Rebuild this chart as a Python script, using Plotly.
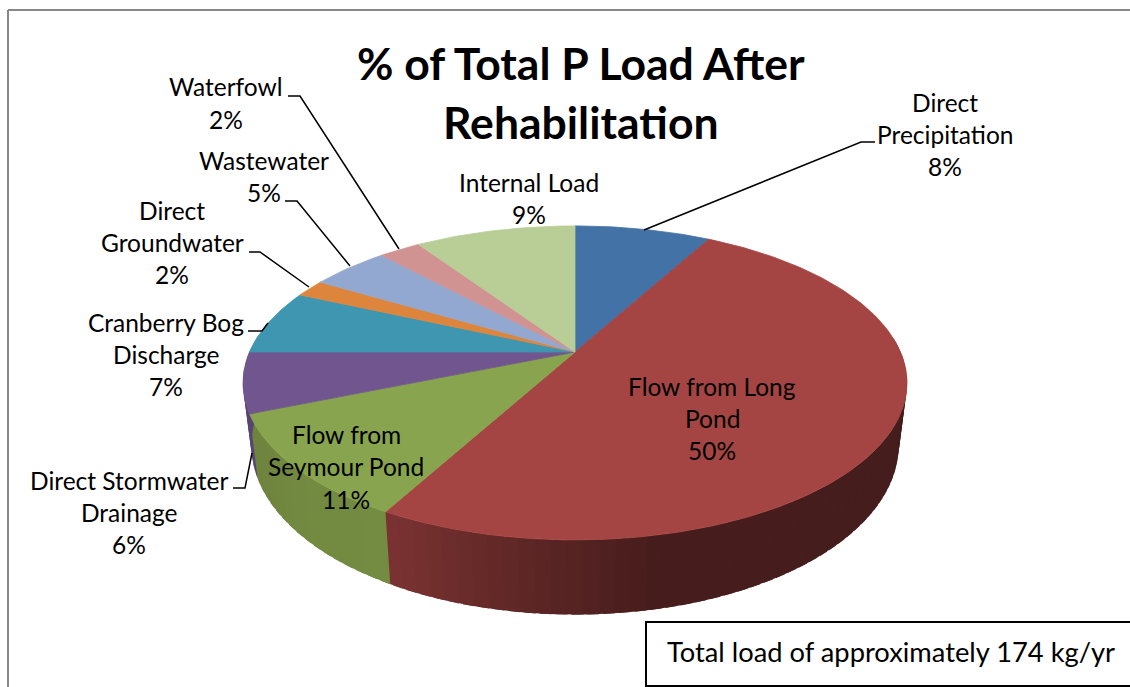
import numpy as np
import plotly.graph_objects as go

# ---- data ----
categories = ["Direct Precipitation", "Flow from Long Pond", "Flow from Seymour Pond",
              "Direct Stormwater Drainage", "Cranberry Bog Discharge", "Direct Groundwater",
              "Wastewater", "Waterfowl", "Internal Load"]
values = [8, 50, 10.8, 6.2, 6.7, 1.8, 4.6, 2.45, 9.45]
title_lines = ["% of Total P Load After", "Rehabilitation"]
note_text = "Total load of approximately 174 kg/yr"

# ---- style ----
colors = ["#4372a6", "#a54543", "#89a44e", "#70558f", "#3f96b0",
          "#dd853c", "#93a8d0", "#d09392", "#b9cd96"]
FONT = "Lato"
LABEL_SIZE = 24.5
W, H = 1130, 687

# perspective disc geometry, in the pixel-like axis units
CX, CY = 575, 352
A, B, P = 325.5, 150.9, 0.197
DEPTH = 60
SHRINK = 0.975

def top(t):
    X, Y = np.sin(t), -np.cos(t)
    w = 1 - P * Y
    return CX + A * X / w, CY + B * Y / w

def bottom(t):
    X, Y = np.sin(t), -np.cos(t)
    w = 1 - P * Y
    return CX + SHRINK * A * X / w, CY + B * Y / w + DEPTH / w

def shade(hex_color, f):
    r, g, b = [int(hex_color[i:i + 2], 16) for i in (1, 3, 5)]
    return "rgb(%d,%d,%d)" % (r * f, g * f, b * f)

def side_factor(i, x):
    if i == 1:
        return float(np.interp(x, [392, 500, 650, 900], [0.74, 0.60, 0.43, 0.42]))
    if i == 2:
        return float(np.interp(x, [255, 300, 392], [0.80, 0.84, 0.85]))
    return 0.8

fig = go.Figure()
fractions = np.cumsum([0] + values) / float(sum(values))
angles = 2 * np.pi * fractions

def add_poly(xs, ys, color, width=0.8):
    fig.add_trace(go.Scatter(x=xs, y=ys, mode="lines", fill="toself", fillcolor=color,
                             line=dict(color=color, width=width), hoverinfo="skip",
                             showlegend=False))

# side wall: overlapping strips, painted from the right round to the left
STEP, OVERLAP = 0.04, 0.03
for i in range(len(values)):
    n = max(2, int((angles[i + 1] - angles[i]) / STEP))
    ts = np.linspace(angles[i], angles[i + 1], n + 1)
    for a, b in zip(ts[:-1], ts[1:]):
        m = 0.5 * (a + b)
        if -np.cos(m) < -0.1:
            continue
        e = b + OVERLAP
        arc = np.linspace(a, e, 5)
        xt, yt = top(arc)
        xb, yb = bottom(arc[::-1])
        add_poly(list(xt) + list(xb) + [xt[0]], list(yt) + list(yb) + [yt[0]],
                 shade(colors[i], side_factor(i, bottom(m)[0])), width=0)

# top face
for i in range(len(values)):
    ts = np.linspace(angles[i], angles[i + 1], max(4, int(values[i] * 4)))
    xs, ys = top(ts)
    add_poly([CX] + list(xs) + [CX], [CY] + list(ys) + [CY], colors[i])

# leader lines (layout)
leaders = [
    [(288, 96), (300, 96), (399, 249)],
    [(285, 201), (297, 201), (350, 266)],
    [(249, 252), (260, 252), (309, 287)],
    [(248, 331), (262, 331), (268, 323)],
    [(233, 488), (245, 488), (252, 453)],
    [(875, 142), (861, 142), (644, 230)],
]
for pts in leaders:
    fig.add_trace(go.Scatter(x=[p[0] for p in pts], y=[p[1] for p in pts], mode="lines",
                             line=dict(color="black", width=1.5), hoverinfo="skip",
                             showlegend=False))

# label lines (layout)
pct = ["%.0f%%" % v for v in values]
text_items = [
    ("Waterfowl", 226, 86), (pct[7], 226, 119),
    ("Wastewater", 264, 160), (pct[6], 264, 192),
    ("Direct", 172, 210), ("Groundwater", 172, 242), (pct[5], 172, 274),
    ("Cranberry Bog", 166, 322), ("Discharge", 166, 354), (pct[4], 166, 386),
    ("Direct Stormwater", 129, 480), ("Drainage", 129, 512), (pct[3], 129, 544),
    ("Flow from", 346, 434), ("Seymour Pond", 346, 466), (pct[2], 346, 499),
    ("Flow from Long", 712, 386), ("Pond", 712, 418), (pct[1], 712, 450),
    ("Internal Load", 529, 182), (pct[8], 529, 214),
    ("Direct", 945, 102), ("Precipitation", 945, 134), (pct[0], 945, 166),
]
annotations = [dict(x=x, y=y, text=t, showarrow=False, xanchor="center", yanchor="middle",
                    font=dict(family=FONT, size=LABEL_SIZE, color="black"))
               for t, x, y in text_items]
for line, y in zip(title_lines, (62, 121)):
    annotations.append(dict(x=581, y=y, text="<b>%s</b>" % line, showarrow=False,
                            xanchor="center", yanchor="middle",
                            font=dict(family=FONT, size=44.5, color="black")))
annotations.append(dict(x=891, y=651, text=note_text, showarrow=False, xanchor="center",
                        yanchor="middle", font=dict(family=FONT, size=27.3, color="black")))

shapes = [
    dict(type="line", x0=8, y0=10, x1=1130, y1=10, line=dict(color="#888888", width=2)),
    dict(type="line", x0=8, y0=10, x1=8, y1=687, line=dict(color="#888888", width=2)),
    dict(type="rect", x0=646, y0=622, x1=1132, y1=686, fillcolor="white",
         line=dict(color="black", width=2)),
]

fig.update_layout(
    width=W, height=H, margin=dict(l=0, r=0, t=0, b=0),
    paper_bgcolor="white", plot_bgcolor="white", showlegend=False,
    xaxis=dict(range=[0, W], visible=False, fixedrange=True),
    yaxis=dict(range=[H, 0], visible=False, fixedrange=True),
    annotations=annotations, shapes=shapes,
)
fig.write_html("out.html", config={"displayModeBar": False},
               post_script="document.body.style.margin='0';document.body.style.overflow='hidden';")
